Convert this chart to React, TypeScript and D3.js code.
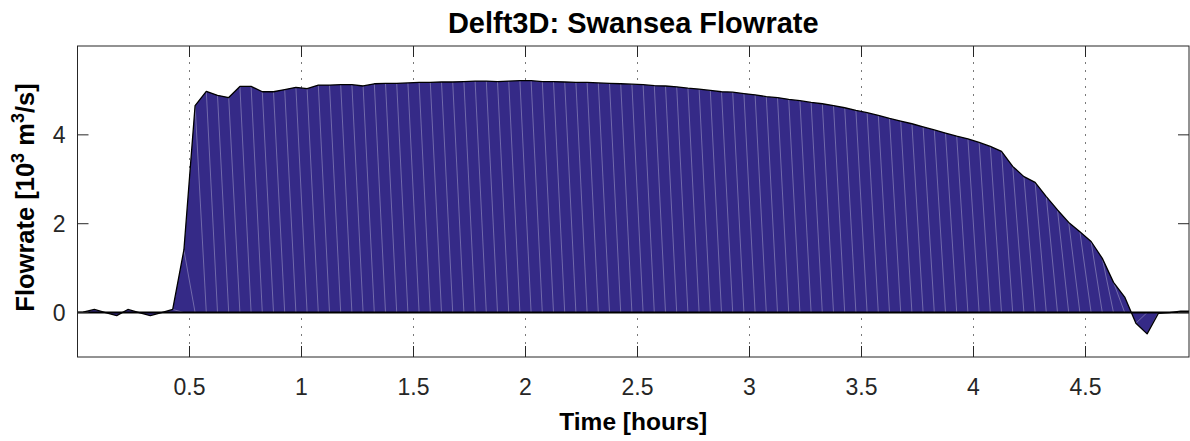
import React from "react";
import * as d3 from "d3";

// Flowrate through the Swansea lagoon turbines, 10^3 m^3/s, sampled every 3 minutes
const SAMPLE_START_HOURS = -0.025;
const SAMPLE_STEP_HOURS = 0.05;
const flowrate: number[] = [
  0.0, 0.01, 0.07, 0.0, -0.07, 0.07, 0.0, -0.07, 0.0, 0.07,
  1.41, 4.66, 4.98, 4.89, 4.84, 5.09, 5.09, 4.97, 4.97, 5.02,
  5.07, 5.04, 5.12, 5.12, 5.13, 5.13, 5.1, 5.15, 5.16, 5.16,
  5.17, 5.18, 5.18, 5.19, 5.19, 5.2, 5.21, 5.21, 5.2, 5.21,
  5.22, 5.22, 5.2, 5.2, 5.19, 5.18, 5.18, 5.17, 5.16, 5.15,
  5.14, 5.13, 5.11, 5.1, 5.08, 5.05, 5.03, 5.0, 4.97, 4.96,
  4.93, 4.9, 4.86, 4.84, 4.8, 4.77, 4.73, 4.7, 4.66, 4.61,
  4.55, 4.5, 4.44, 4.37, 4.31, 4.25, 4.18, 4.11, 4.04, 3.97,
  3.91, 3.83, 3.74, 3.63, 3.29, 3.06, 2.93, 2.61, 2.31, 2.03,
  1.82, 1.6, 1.22, 0.68, 0.35, -0.24, -0.48, -0.02, 0.0, 0.03,
  0.03,
];
const timeHours: number[] = flowrate.map((_, i) => SAMPLE_START_HOURS + i * SAMPLE_STEP_HOURS);

const xTicks = [0.5, 1, 1.5, 2, 2.5, 3, 3.5, 4, 4.5];
const yTicks = [0, 2, 4];
const xDomain: [number, number] = [0, 4.962];
const yDomain: [number, number] = [-1, 6];

const TITLE = "Delft3D: Swansea Flowrate";
const X_LABEL = "Time [hours]";

const W = 1190;
const H = 441;
const plot = { left: 77.5, right: 1189, top: 46, bottom: 357 };
const FONT = "'Liberation Sans', Arial, Helvetica, sans-serif";
const AXIS_COLOR = "#262626";
const FILL = "#352a87";
const TICK_LEN = 11;

export default function App() {
  const x = d3.scaleLinear().domain(xDomain).range([plot.left, plot.right]);
  const y = d3.scaleLinear().domain(yDomain).range([plot.bottom, plot.top]);

  const pts: [number, number][] = timeHours.map((t, i) => [t, flowrate[i]]);
  const area = d3
    .area<[number, number]>()
    .x((d) => x(d[0]))
    .y0(() => y(0))
    .y1((d) => y(d[1]));
  const line = d3
    .line<[number, number]>()
    .x((d) => x(d[0]))
    .y((d) => y(d[1]));

  // seams of the triangulated fill: from each sample's top to the next sample's base
  const seams = pts.slice(0, -1).map((d, i) => ({
    x1: x(d[0]),
    y1: y(d[1]),
    x2: x(pts[i + 1][0]),
    y2: y(0),
  }));

  const plotW = plot.right - plot.left;
  const plotH = plot.bottom - plot.top;
  const midX = (plot.left + plot.right) / 2;
  const midY = (plot.top + plot.bottom) / 2;

  return (
    <svg width={W} height={H} style={{ display: "block", position: "absolute", left: 0, top: 0, background: "#fff" }}>
      <defs>
        <clipPath id="plot-clip">
          <rect x={plot.left} y={plot.top} width={plotW} height={plotH} />
        </clipPath>
      </defs>

      {/* vertical dotted grid */}
      {xTicks.map((t) => (
        <line
          key={"g" + t}
          x1={x(t)}
          x2={x(t)}
          y1={plot.top}
          y2={plot.bottom}
          stroke="#7a7a7a"
          strokeWidth={1}
          strokeDasharray="2 6"
        />
      ))}

      <g clipPath="url(#plot-clip)">
        <path d={area(pts) ?? ""} fill={FILL} stroke="none" />
        {seams.map((s, i) => (
          <line key={"s" + i} {...s} stroke="rgba(255,255,255,0.3)" strokeWidth={1} />
        ))}
        <line x1={plot.left} x2={plot.right} y1={y(0)} y2={y(0)} stroke="#000" strokeWidth={2} />
        <path d={line(pts) ?? ""} fill="none" stroke="#000" strokeWidth={1.3} strokeLinejoin="round" />
      </g>

      {/* axes box with inward ticks */}
      <rect x={plot.left} y={plot.top} width={plotW} height={plotH} fill="none" stroke={AXIS_COLOR} strokeWidth={1} />
      {xTicks.map((t) => (
        <g key={"xt" + t}>
          <line x1={x(t)} x2={x(t)} y1={plot.bottom} y2={plot.bottom - TICK_LEN} stroke={AXIS_COLOR} />
          <line x1={x(t)} x2={x(t)} y1={plot.top} y2={plot.top + TICK_LEN} stroke={AXIS_COLOR} />
          <text
            x={x(t)}
            y={plot.bottom + 38}
            textAnchor="middle"
            fontFamily={FONT}
            fontSize={23}
            fill={AXIS_COLOR}
          >
            {t}
          </text>
        </g>
      ))}
      {yTicks.map((v) => (
        <g key={"yt" + v}>
          <line x1={plot.left} x2={plot.left + TICK_LEN} y1={y(v)} y2={y(v)} stroke={AXIS_COLOR} />
          <line x1={plot.right} x2={plot.right - TICK_LEN} y1={y(v)} y2={y(v)} stroke={AXIS_COLOR} />
          <text
            x={plot.left - 12}
            y={y(v) + 8}
            textAnchor="end"
            fontFamily={FONT}
            fontSize={23}
            fill={AXIS_COLOR}
          >
            {v}
          </text>
        </g>
      ))}

      <text x={midX} y={33} textAnchor="middle" fontFamily={FONT} fontWeight="bold" fontSize={29} fill="#000">
        {TITLE}
      </text>
      <text x={midX} y={430} textAnchor="middle" fontFamily={FONT} fontWeight="bold" fontSize={24.5} fill="#000">
        {X_LABEL}
      </text>
      <text
        transform={`translate(34,${midY - 4}) rotate(-90)`}
        textAnchor="middle"
        fontFamily={FONT}
        fontWeight="bold"
        fontSize={25.5}
        fill="#000"
      >
        Flowrate [10
        <tspan fontSize={18} dy={-10}>3</tspan>
        <tspan dy={10}> m</tspan>
        <tspan fontSize={18} dy={-10}>3</tspan>
        <tspan dy={10}>/s]</tspan>
      </text>
    </svg>
  );
}
